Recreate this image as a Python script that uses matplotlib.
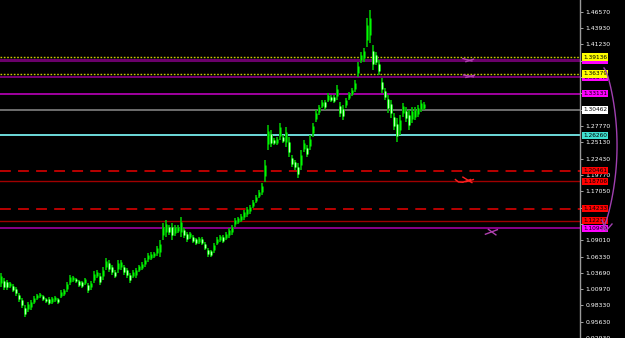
import numpy as np
import matplotlib
matplotlib.use("Agg")
import matplotlib.pyplot as plt
import matplotlib.transforms as mtransforms

# ---------------- data ----------------
highs = [1.0369, 1.0287, 1.0254, 1.0221, 1.0188, 1.0138, 1.0040, 0.9958, 0.9843, 0.9892,
         0.9925, 0.9991, 1.0024, 1.0040, 1.0007, 0.9958, 0.9974, 0.9974, 0.9991, 0.9958,
         1.0089, 1.0106, 1.0221, 1.0336, 1.0319, 1.0287, 1.0254, 1.0237, 1.0287, 1.0204,
         1.0237, 1.0402, 1.0418, 1.0369, 1.0467, 1.0615, 1.0582, 1.0500, 1.0418, 1.0582,
         1.0582, 1.0500, 1.0451, 1.0369, 1.0418, 1.0451, 1.0500, 1.0549, 1.0615, 1.0697,
         1.0714, 1.0714, 1.0812, 1.0911, 1.1190, 1.1239, 1.1157, 1.1190, 1.1157, 1.1157,
         1.1289, 1.1108, 1.1042, 1.1042, 1.0993, 1.0944, 1.0960, 1.0960, 1.0878, 1.0779,
         1.0747, 1.0862, 1.0960, 1.0993, 1.0993, 1.1042, 1.1108, 1.1157, 1.1272, 1.1289,
         1.1338, 1.1404, 1.1453, 1.1486, 1.1568, 1.1650, 1.1732, 1.1847, 1.2225, 1.2800,
         1.2718, 1.2587, 1.2603, 1.2833, 1.2636, 1.2767, 1.2603, 1.2307, 1.2225, 1.2176,
         1.2389, 1.2554, 1.2472, 1.2636, 1.2833, 1.3047, 1.3129, 1.3211, 1.3211, 1.3326,
         1.3293, 1.3293, 1.3458, 1.3178, 1.3129, 1.3244, 1.3342, 1.3408, 1.3540, 1.3835,
         1.3999, 1.4065, 1.4558, 1.4690, 1.4115, 1.3999, 1.3868, 1.3572, 1.3408, 1.3293,
         1.3211, 1.2997, 1.2915, 1.2965, 1.3162, 1.3096, 1.3047, 1.3096, 1.3096, 1.3129,
         1.3211, 1.3178]
lows = [1.0138, 1.0089, 1.0089, 1.0122, 1.0056, 0.9991, 0.9892, 0.9794, 0.9646, 0.9728,
        0.9761, 0.9859, 0.9925, 0.9958, 0.9909, 0.9876, 0.9843, 0.9859, 0.9892, 0.9859,
        0.9958, 0.9991, 1.0056, 1.0171, 1.0221, 1.0204, 1.0138, 1.0122, 1.0171, 1.0040,
        1.0089, 1.0204, 1.0287, 1.0171, 1.0254, 1.0418, 1.0385, 1.0336, 1.0287, 1.0369,
        1.0418, 1.0336, 1.0287, 1.0204, 1.0287, 1.0287, 1.0385, 1.0418, 1.0467, 1.0549,
        1.0582, 1.0615, 1.0648, 1.0632, 1.0911, 1.0960, 1.0993, 1.0911, 1.0976, 1.1026,
        1.0960, 1.0944, 1.0878, 1.0927, 1.0862, 1.0829, 1.0845, 1.0829, 1.0747, 1.0632,
        1.0632, 1.0697, 1.0829, 1.0878, 1.0862, 1.0911, 1.0944, 1.0993, 1.1124, 1.1174,
        1.1206, 1.1239, 1.1289, 1.1338, 1.1437, 1.1519, 1.1601, 1.1650, 1.1864, 1.2389,
        1.2439, 1.2472, 1.2472, 1.2554, 1.2505, 1.2439, 1.2275, 1.2110, 1.2061, 1.1929,
        1.2061, 1.2357, 1.2275, 1.2389, 1.2603, 1.2850, 1.2965, 1.3080, 1.3047, 1.3178,
        1.3178, 1.3162, 1.3211, 1.2932, 1.2882, 1.3080, 1.3211, 1.3277, 1.3342, 1.3589,
        1.3819, 1.3835, 1.4082, 1.4147, 1.3704, 1.3786, 1.3622, 1.3326, 1.3211, 1.2997,
        1.2915, 1.2718, 1.2521, 1.2636, 1.2932, 1.2850, 1.2718, 1.2833, 1.2882, 1.2932,
        1.3014, 1.3047]

tick_values = [1.46570, 1.43930, 1.41230, 1.38530, 1.35890, 1.33190, 1.30490, 1.27770,
               1.25130, 1.22430, 1.19770, 1.17050, 1.14350, 1.11710, 1.09010, 1.06330,
               1.03690, 1.00970, 0.98330, 0.95630, 0.92930]
# tick labels hidden behind the price boxes in the reference
hidden_ticks = [1.38530, 1.35890, 1.33190, 1.30490, 1.14350, 1.11710]

level_values = [1.39136, 1.38687, 1.36379, 1.35849, 1.33131, 1.30462, 1.26260,
                1.20461, 1.18706, 1.14233, 1.12217, 1.10949]
level_colors = ["#c8c800", "#6a006a", "#c8c800", "#8a008a", "#a000a0", "#808080", "#80ffff",
                "#c80000", "#a00000", "#c80000", "#a00000", "#a000a0"]
level_styles = ["dotted", "solid", "dotted", "solid", "solid", "solid", "solid",
                "dashed", "solid", "dashed", "solid", "solid"]
level_widths = [1.0, 2.2, 1.0, 1.2, 1.4, 1.2, 1.2, 1.3, 1.0, 1.3, 1.0, 1.2]
label_bg = ["#ffff00", "#ff00ff", "#ffff00", "#ff00ff", "#ff00ff", "#ffffff", "#40e0d0",
            "#ff0000", "#ff0000", "#ff0000", "#ff0000", "#ff00ff"]
label_layer = [12, 11, 12, 11, 10, 10, 10, 10, 10, 10, 10, 11]

# hand-drawn marks (bar index, price) pairs
mark_purple1 = ([154.0, 157.0, 155.0, 157.5], [1.3890, 1.3850, 1.3840, 1.3880])
mark_purple2 = ([154.2, 157.5, 155.0, 157.8], [1.3620, 1.3590, 1.3580, 1.3615])
mark_purple3 = ([161.5, 165.5, 162.5, 165.0], [1.1000, 1.1075, 1.1080, 1.0990])

# ---------------- figure ----------------
W, H, DPI = 625, 338, 100
fig = plt.figure(figsize=(W / DPI, H / DPI), dpi=DPI, facecolor="black")
ax_w = 580 / W
ax = fig.add_axes([0, 0, ax_w, 1], facecolor="black")

idx = np.arange(len(highs))
hi = np.array(highs)
lo = np.array(lows)
mid = (hi + lo) / 2
prev_mid = np.concatenate([[mid[0]], mid[:-1]])
up = mid >= prev_mid

ax.vlines(idx, lo, hi, color="#00c000", lw=1.2, zorder=3)
rng = hi - lo
b_lo = lo + 0.25 * rng
b_hi = hi - 0.25 * rng
ax.vlines(idx[up], b_lo[up], b_hi[up], color="#00a000", lw=2.0, zorder=4)
ax.vlines(idx[up], b_lo[up], b_hi[up], color="#00ff00", lw=0.7, zorder=4)
ax.vlines(idx[~up], b_lo[~up], b_hi[~up], color="#00dd00", lw=2.0, zorder=4)
ax.vlines(idx[~up], b_lo[~up], b_hi[~up], color="#b8ffb8", lw=0.8, zorder=4)

for v, c, s, w in zip(level_values, level_colors, level_styles, level_widths):
    if s == "dashed":
        ax.axhline(v, color=c, lw=w, dashes=(6, 4), zorder=2)
    elif s == "dotted":
        ax.axhline(v, color=c, lw=w, dashes=(1.2, 1.2), zorder=2)
    else:
        ax.axhline(v, color=c, lw=w, zorder=2)

ax.set_xlim(-0.3, 580 / 3 - 0.3)
ax.set_ylim(0.9301, 1.4854)

# right axis
for sp in ["left", "top", "bottom"]:
    ax.spines[sp].set_visible(False)
ax.spines["right"].set_color("#9a9a9a")
ax.spines["right"].set_linewidth(1.0)
ax.yaxis.tick_right()
ax.set_yticks(tick_values)
ax.set_yticklabels(["" if t in hidden_ticks else f"{t:.5f}" for t in tick_values])
ax.tick_params(axis="y", colors="#c0c0c0", length=2, width=0.6, pad=2,
               labelsize=4.4, labelcolor="white")
for lab in ax.get_yticklabels():
    lab.set_family(["Liberation Sans Narrow", "DejaVu Sans"])
ax.set_xticks([])

# price labels
trans = mtransforms.blended_transform_factory(ax.transAxes, ax.transData)
for v, bg, zl in zip(level_values, label_bg, label_layer):
    ax.text(1.0 + 3 / 580, v, f"{v:.5f}", transform=trans, ha="left", va="center",
            fontsize=4.2, color="black", family=["Liberation Sans Narrow", "DejaVu Sans"],
            bbox=dict(boxstyle="square,pad=0.2", fc=bg, ec="none"),
            zorder=zl, clip_on=False)

# hand-drawn marks
for (mx, my) in [mark_purple1, mark_purple2, mark_purple3]:
    ax.plot(mx[:2], my[:2], color="#b040b0", lw=1.0, zorder=6)
    ax.plot(mx[2:], my[2:], color="#b040b0", lw=1.0, zorder=6)
# red tick/X mark
ax.plot([151.5, 152.5, 154.0, 156.5], [1.1900, 1.1860, 1.1855, 1.1900], color="#ff2020", lw=1.0, zorder=6)
ax.plot([154.0, 157.0], [1.1940, 1.1850], color="#ff2020", lw=1.0, zorder=6)
ax.plot([155.0, 157.5], [1.1865, 1.1900], color="#ff2020", lw=1.0, zorder=6)

# curved arrow on the right side (figure coordinates)
t = np.linspace(0, 1, 60)
px = 604 + 14 * np.sin(np.pi * t) ** 0.7 - 2 * t
py = 68 + 162 * t
fig.lines.append(plt.Line2D(px / W, 1 - py / H, transform=fig.transFigure, color="#a040b0", lw=1.0))
fig.lines.append(plt.Line2D(np.array([602, 606, 612]) / W, 1 - np.array([220, 231, 224]) / H,
                            transform=fig.transFigure, color="#a040b0", lw=1.0))

fig.savefig("out.png", dpi=DPI, facecolor="black")
